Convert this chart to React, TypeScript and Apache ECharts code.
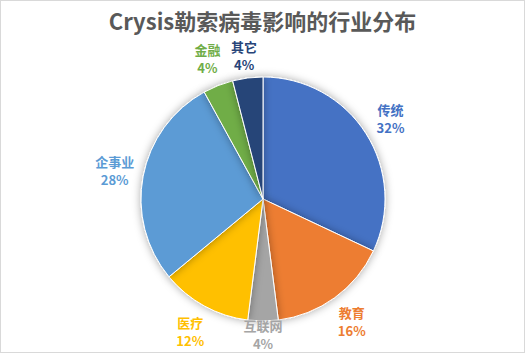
import React, { useEffect, useRef } from "react";
import * as echarts from "echarts";

const categories = ["传统", "教育", "互联网", "医疗", "企事业", "金融", "其它"];
const values = [32, 16, 4, 12, 28, 4, 4];
const colors = ["#4472C4", "#ED7D31", "#A5A5A5", "#FFC000", "#5B9BD5", "#70AD47", "#264478"];

const CX = 262;
const CY = 198;
const R = 122;
const LABEL_R = 151;

export default function App() {
  const ref = useRef<HTMLDivElement>(null);
  useEffect(() => {
    if (!ref.current) return;
    const chart = echarts.init(ref.current, null, { renderer: "svg" });
    const total = values.reduce((a, b) => a + b, 0);
    const mids: number[] = [];
    let acc = 0;
    values.forEach((v) => {
      mids.push(((acc + v / 2) / total) * Math.PI * 2);
      acc += v;
    });
    chart.setOption({
      animation: false,
      backgroundColor: "#ffffff",
      title: {
        text: "Crysis勒索病毒影响的行业分布",
        left: "center",
        top: 3,
        textStyle: {
          fontFamily: "Noto Sans CJK SC",
          fontSize: 22,
          fontWeight: "bold",
          color: "#595959",
        },
      },
      series: [
        {
          type: "pie",
          center: [CX, CY],
          radius: R,
          startAngle: 90,
          clockwise: true,
          data: categories.map((c, i) => ({
            name: c,
            value: values[i],
            itemStyle: { color: colors[i] },
            label: { color: colors[i] },
          })),
          itemStyle: {
            borderColor: "#ffffff",
            borderWidth: 1,
            shadowBlur: 8,
            shadowColor: "rgba(0,0,0,0.35)",
          },
          label: {
            show: true,
            position: "outside",
            formatter: (p: any) => `${p.name}\n${p.value}%`,
            fontFamily: "Noto Sans CJK SC",
            fontSize: 13,
            fontWeight: "bold",
            lineHeight: 18,
          },
          labelLine: { show: false, length: 12, length2: 0 },
          labelLayout: (p: any) => {
            const a = mids[p.dataIndex];
            const x = CX + LABEL_R * Math.sin(a);
            const y = Math.min(Math.max(CY - LABEL_R * Math.cos(a), 54), 333);
            return { x, y, align: "center", verticalAlign: "middle" };
          },
        },
      ],
    });
    return () => chart.dispose();
  }, []);
  return (
    <div
      ref={ref}
      style={{
        position: "fixed",
        left: 0,
        top: 0,
        width: 525,
        height: 353,
        boxSizing: "border-box",
        border: "1px solid #D9D9D9",
      }}
    />
  );
}
